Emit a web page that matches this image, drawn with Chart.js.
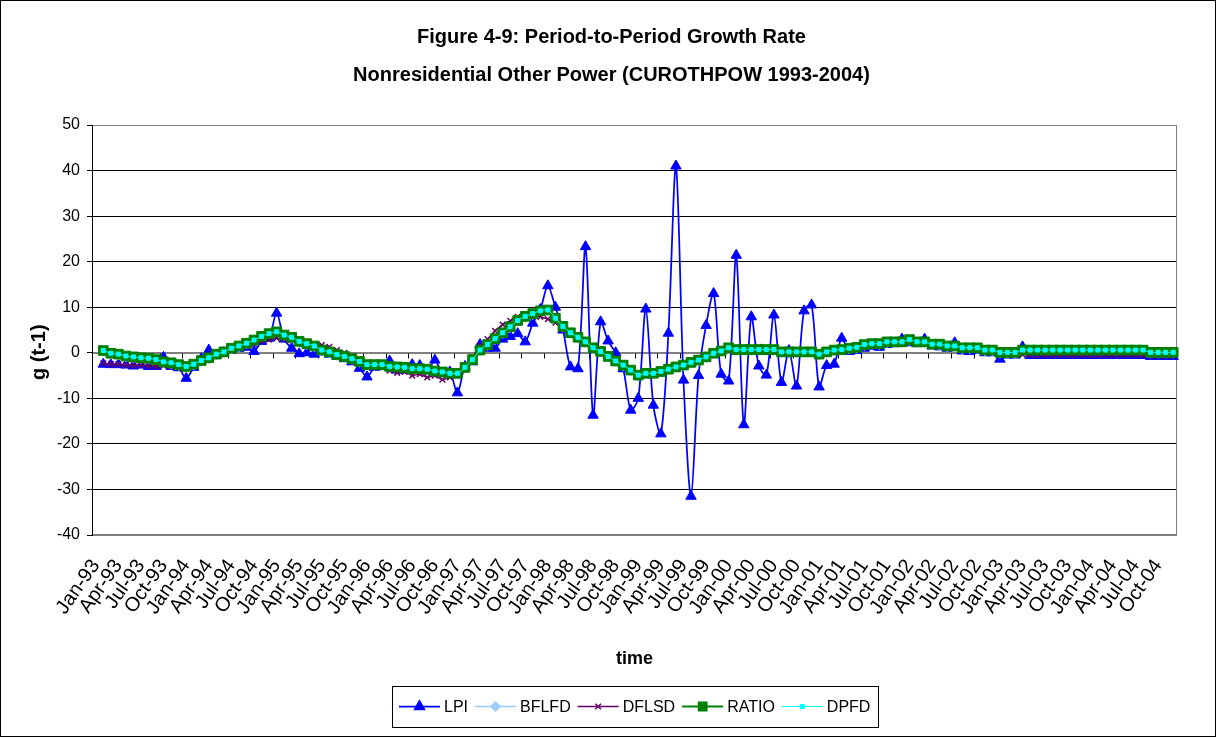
<!DOCTYPE html>
<html>
<head>
<meta charset="utf-8">
<title>Period-to-Period Growth Rate</title>
<script src="https://cdn.jsdelivr.net/npm/chart.js@4.4.1/dist/chart.umd.min.js"></script>
<style>
  html, body { margin: 0; padding: 0; background: #fff; }
  #wrap { width: 1217px; height: 738px; }
</style>
</head>
<body>
<div id="wrap"><canvas id="growth" width="1217" height="738"></canvas></div>
<script>
const FONT = "'Liberation Sans', Arial, sans-serif";

// monthly categories Jan-93 .. Dec-04, a label every quarter
const monthNames = ['Jan', 'Feb', 'Mar', 'Apr', 'May', 'Jun', 'Jul', 'Aug', 'Sep', 'Oct', 'Nov', 'Dec'];
const yearNames = ['93', '94', '95', '96', '97', '98', '99', '00', '01', '02', '03', '04'];
const labels = [];
yearNames.forEach(y => monthNames.forEach(m => labels.push(m + '-' + y)));

// growth rates g(t-1), one row per year (no value for the first month)
const lpi = [
  null, -2.5, -2.6, -2.6, -2.7, -2.9, -2.7, -3.0, -3.0, -1.0, -3.0, -3.3,
  -5.6, -3.2, -1.3, 0.6, -0.5, 0.0, 0.6, 1.0, 1.2, 0.3, 2.5, 3.2,
  8.7, 3.0, 1.0, -0.2, 0.0, -0.3, 0.2, -0.3, -0.8, -1.3, -2.0, -3.4,
  -5.3, -3.2, -3.0, -1.8, -3.8, -3.8, -2.6, -2.8, -4.0, -1.6, -4.5, -4.2,
  -8.8, -3.0, -2.0, 1.8, 1.0, 1.0, 3.0, 3.6, 4.2, 2.4, 6.5, 9.5,
  14.7, 10.0, 5.0, -3.1, -3.5, 23.3, -13.7, 6.8, 2.6, 0.0, -3.5, -12.6,
  -10.0, 9.6, -11.5, -17.8, 4.3, 41.0, -6.0, -31.5, -5.0, 6.0, 13.0, -4.7,
  -6.2, 21.4, -15.8, 7.9, -2.9, -4.9, 8.3, -6.5, 0.5, -7.3, 9.2, 10.5,
  -7.5, -2.8, -2.5, 3.2, 0.3, 0.5, 1.0, 1.4, 1.2, 1.8, 2.0, 3.0,
  2.2, 2.0, 3.0, 1.5, 1.3, 1.0, 2.2, 0.4, 0.3, 0.5, 0.0, 0.0,
  -1.4, -0.5, -0.5, 1.3, -0.6, -0.6, -0.6, -0.6, -0.6, -0.6, -0.6, -0.6,
  -0.6, -0.6, -0.6, -0.6, -0.6, -0.6, -0.6, -0.6, -0.8, -0.8, -0.8, -0.8
];

const bflfd = [
  null, 0.2, -0.4, -0.6, -1.0, -1.2, -1.4, -1.5, -1.8, -2.3, -2.5, -2.9,
  -3.3, -2.8, -2.0, -1.4, -0.6, -0.1, 0.7, 1.2, 1.8, 2.5, 3.3, 3.9,
  4.3, 3.6, 3.1, 2.2, 1.7, 1.2, 0.3, -0.1, -0.7, -1.1, -1.6, -2.2,
  -2.9, -2.9, -2.9, -3.3, -3.4, -3.5, -3.8, -3.8, -3.9, -4.3, -4.5, -4.8,
  -4.8, -3.5, -1.8, 0.3, 1.5, 2.8, 4.1, 5.4, 6.8, 7.7, 8.3, 8.9,
  9.1, 7.3, 5.5, 4.1, 3.1, 2.1, 0.8, 0.0, -1.1, -2.1, -3.0, -4.1,
  -5.2, -4.8, -4.8, -4.4, -3.9, -3.4, -3.0, -2.4, -1.9, -1.2, -0.4, 0.1,
  0.8, 0.4, 0.4, 0.4, 0.4, 0.4, 0.4, -0.1, -0.1, -0.1, -0.1, -0.1,
  -0.6, -0.1, 0.3, 0.4, 0.7, 0.9, 1.5, 1.7, 1.7, 2.1, 2.1, 2.1,
  2.6, 2.1, 2.1, 1.6, 1.6, 1.2, 1.2, 0.8, 0.8, 0.8, 0.3, 0.3,
  -0.2, -0.2, -0.2, 0.3, 0.3, 0.3, 0.3, 0.3, 0.3, 0.3, 0.3, 0.3,
  0.3, 0.3, 0.3, 0.3, 0.3, 0.3, 0.3, 0.3, -0.2, -0.2, -0.2, -0.2
];

const dflsd = [
  null, -2.3, -2.5, -2.5, -2.7, -2.8, -2.7, -2.9, -3.0, -2.8, -3.0, -3.2,
  -3.4, -2.9, -1.4, -1.0, -0.6, 0.0, 0.6, 1.0, 1.4, 1.9, 2.5, 2.9,
  3.2, 3.0, 2.8, 2.4, 2.1, 1.9, 1.7, 1.3, 0.6, 0.0, -0.8, -1.7,
  -2.6, -2.9, -3.2, -3.9, -4.4, -4.2, -5.0, -4.7, -5.4, -5.0, -5.9, -5.4,
  -5.0, -3.6, -1.0, 1.6, 3.0, 4.8, 6.2, 7.0, 7.9, 8.4, 8.3, 7.9,
  7.4, 6.6, 5.2, 4.0, 3.0, 2.0, 0.8, 0.0, -1.2, -2.2, -3.1, -4.2,
  -5.2, -5.0, -4.9, -4.6, -4.0, -3.6, -3.1, -2.5, -2.0, -1.2, -0.4, 0.3,
  1.0, 1.1, 1.2, 1.0, 1.3, 1.0, 0.8, 0.2, -0.1, 0.0, -0.1, 0.0,
  -0.4, 0.0, 0.4, 0.5, 0.8, 0.9, 1.4, 1.7, 1.8, 2.2, 2.3, 2.3,
  2.6, 2.3, 2.3, 1.8, 1.7, 1.3, 1.3, 0.8, 0.8, 0.8, 0.4, 0.4,
  -0.3, -0.4, -0.4, -0.4, -0.5, -0.5, -0.5, -0.5, -0.5, -0.5, -0.5, -0.5,
  -0.5, -0.5, -0.5, -0.5, -0.5, -0.5, -0.5, -0.5, -0.7, -0.7, -0.7, -0.7
];

const ratio = [
  null, 0.5, -0.1, -0.3, -0.7, -0.9, -1.1, -1.2, -1.5, -2.0, -2.2, -2.6,
  -3.0, -2.5, -1.7, -1.1, -0.3, 0.2, 1.0, 1.5, 2.1, 2.8, 3.6, 4.2,
  4.6, 3.9, 3.4, 2.5, 2.0, 1.5, 0.6, 0.2, -0.4, -0.8, -1.3, -1.9,
  -2.6, -2.6, -2.6, -3.0, -3.1, -3.2, -3.5, -3.5, -3.6, -4.0, -4.2, -4.5,
  -4.5, -3.2, -1.5, 0.6, 1.8, 3.1, 4.4, 5.7, 7.1, 8.0, 8.6, 9.2,
  9.4, 7.6, 5.8, 4.4, 3.4, 2.4, 1.1, 0.3, -0.8, -1.8, -2.7, -3.8,
  -4.9, -4.5, -4.5, -4.1, -3.6, -3.1, -2.7, -2.1, -1.6, -0.9, -0.1, 0.4,
  1.1, 0.7, 0.7, 0.7, 0.7, 0.7, 0.7, 0.2, 0.2, 0.2, 0.2, 0.2,
  -0.3, 0.2, 0.6, 0.7, 1.0, 1.2, 1.8, 2.0, 2.0, 2.4, 2.4, 2.4,
  2.9, 2.4, 2.4, 1.9, 1.9, 1.5, 1.5, 1.1, 1.1, 1.1, 0.6, 0.6,
  0.1, 0.1, 0.1, 0.6, 0.6, 0.6, 0.6, 0.6, 0.6, 0.6, 0.6, 0.6,
  0.6, 0.6, 0.6, 0.6, 0.6, 0.6, 0.6, 0.6, 0.1, 0.1, 0.1, 0.1
];

const dpfd = [
  null, 0.5, -0.1, -0.3, -0.7, -0.9, -1.1, -1.2, -1.5, -2.0, -2.2, -2.6,
  -3.0, -2.5, -1.7, -1.1, -0.3, 0.2, 1.0, 1.5, 2.1, 2.8, 3.6, 4.2,
  4.6, 3.9, 3.4, 2.5, 2.0, 1.5, 0.6, 0.2, -0.4, -0.8, -1.3, -1.9,
  -2.6, -2.6, -2.6, -3.0, -3.1, -3.2, -3.5, -3.5, -3.6, -4.0, -4.2, -4.5,
  -4.5, -3.2, -1.5, 0.6, 1.8, 3.1, 4.4, 5.7, 7.1, 8.0, 8.6, 9.2,
  9.4, 7.6, 5.8, 4.4, 3.4, 2.4, 1.1, 0.3, -0.8, -1.8, -2.7, -3.8,
  -4.9, -4.5, -4.5, -4.1, -3.6, -3.1, -2.7, -2.1, -1.6, -0.9, -0.1, 0.4,
  1.1, 0.7, 0.7, 0.7, 0.7, 0.7, 0.7, 0.2, 0.2, 0.2, 0.2, 0.2,
  -0.3, 0.2, 0.6, 0.7, 1.0, 1.2, 1.8, 2.0, 2.0, 2.4, 2.4, 2.4,
  2.9, 2.4, 2.4, 1.9, 1.9, 1.5, 1.5, 1.1, 1.1, 1.1, 0.6, 0.6,
  0.1, 0.1, 0.1, 0.6, 0.6, 0.6, 0.6, 0.6, 0.6, 0.6, 0.6, 0.6,
  0.6, 0.6, 0.6, 0.6, 0.6, 0.6, 0.6, 0.6, 0.1, 0.1, 0.1, 0.1
];

const yTicks = [-40, -30, -20, -10, 0, 10, 20, 30, 40, 50];

// outer frame, plot border, zero axis with quarterly tick marks, boxed legend
const excelFrame = {
  id: 'excelFrame',
  beforeDraw(chart) {
    const { ctx, width, height } = chart;
    ctx.save();
    ctx.fillStyle = '#fff';
    ctx.fillRect(0, 0, width, height);
    ctx.strokeStyle = '#000';
    ctx.lineWidth = 1;
    ctx.strokeRect(0.5, 0.5, width - 2, height - 2);
    ctx.restore();
  },
  beforeDatasetsDraw(chart) {
    const { ctx, chartArea: a, scales: { x, y } } = chart;
    ctx.save();
    ctx.strokeStyle = '#808080';
    ctx.lineWidth = 1;
    ctx.strokeRect(Math.round(a.left) + 0.5, Math.round(a.top) + 0.5,
      Math.round(a.width) - 1, Math.round(a.height) - 1);
    const y0 = Math.round(y.getPixelForValue(0)) + 0.5;
    ctx.beginPath();
    ctx.moveTo(a.left, y0);
    ctx.lineTo(a.right, y0);
    ctx.stroke();
    ctx.strokeStyle = '#000';
    ctx.beginPath();
    for (let k = 0; k <= labels.length; k += 3) {
      const px = Math.round(x.getPixelForValue(k - 0.5)) + 0.5;
      ctx.moveTo(px, y0);
      ctx.lineTo(px, y0 + 5);
    }
    ctx.stroke();
    // y axis line on top of the border
    ctx.beginPath();
    ctx.moveTo(Math.round(a.left) + 0.5, a.top);
    ctx.lineTo(Math.round(a.left) + 0.5, a.bottom);
    ctx.stroke();
    ctx.restore();
  },
  afterDraw(chart) {
    const { ctx } = chart;
    const sets = chart.data.datasets;
    const sample = 41, gapText = 4, gapItem = 7, padX = 7;
    const top = 686, bottom = 727, yc = (top + bottom) / 2;
    ctx.save();
    ctx.font = '16px ' + FONT;
    const widths = sets.map(ds => sample + gapText + ctx.measureText(ds.label).width);
    const inner = widths.reduce((s, w) => s + w, 0) + gapItem * (sets.length - 1);
    const left = Math.round(635 - inner / 2 - padX);
    const right = Math.round(635 + inner / 2 + padX);
    ctx.strokeStyle = '#000';
    ctx.lineWidth = 1;
    ctx.strokeRect(left + 0.5, top + 0.5, right - left, bottom - top);
    let cx = left + padX;
    sets.forEach((ds, i) => {
      ctx.strokeStyle = ds.borderColor;
      ctx.lineWidth = Math.min(ds.borderWidth, 2);
      ctx.beginPath();
      ctx.moveTo(cx, yc);
      ctx.lineTo(cx + sample, yc);
      ctx.stroke();
      ctx.fillStyle = ds.pointBackgroundColor;
      ctx.strokeStyle = ds.pointBorderColor;
      Chart.helpers.drawPoint(ctx, {
        pointStyle: ds.pointStyle,
        radius: Math.min(ds.pointRadius, 5.5),
        borderWidth: ds.pointBorderWidth,
        rotation: 0
      }, cx + sample / 2, yc);
      ctx.fillStyle = '#000';
      ctx.textBaseline = 'middle';
      ctx.textAlign = 'left';
      ctx.fillText(ds.label, cx + sample + gapText, yc + 1);
      cx += widths[i] + gapItem;
    });
    ctx.restore();
  }
};

const series = (label, data, color, style, radius, lineWidth, fill, order, extra) => Object.assign({
  label, data,
  borderColor: color,
  borderWidth: lineWidth,
  pointStyle: style,
  pointRadius: radius,
  pointHoverRadius: radius,
  pointBackgroundColor: fill,
  pointBorderColor: color,
  pointBorderWidth: 1,
  tension: 0.3,
  spanGaps: true,
  yAxisID: 'y',
  order
}, extra || {});

new Chart(document.getElementById('growth'), {
  type: 'line',
  data: {
    labels,
    datasets: [
      series('LPI', lpi, '#0000FF', 'triangle', 6, 1.75, '#0000FF', 5),
      series('BFLFD', bflfd, '#99CCFF', 'rectRot', 4.5, 1.5, '#99CCFF', 4),
      series('DFLSD', dflsd, '#660066', 'crossRot', 4, 1.5, '#660066', 3, { pointBorderWidth: 1.5 }),
      series('RATIO', ratio, '#008000', 'rect', 6.8, 2.25, '#008000', 2),
      series('DPFD', dpfd, '#00FFFF', 'rect', 2.8, 1, '#00FFFF', 1)
    ]
  },
  options: {
    responsive: false,
    animation: false,
    events: [],
    layout: { padding: { left: 6, right: 0, top: 0, bottom: 60 } },
    plugins: {
      legend: { display: false },
      tooltip: { enabled: false },
      title: {
        display: true,
        text: ['Figure 4-9: Period-to-Period Growth Rate', 'Nonresidential Other Power (CUROTHPOW 1993-2004)'],
        color: '#000',
        font: { family: FONT, size: 20, weight: 'bold', lineHeight: 38 / 20 },
        padding: { top: 18, bottom: 31 }
      }
    },
    scales: {
      x: {
        offset: true,
        grid: { display: false, drawTicks: false },
        border: { display: false },
        ticks: {
          autoSkip: false,
          minRotation: 55,
          maxRotation: 55,
          padding: 20,
          color: '#000',
          font: { family: FONT, size: 20 },
          callback: (v, i) => (i % 3 === 0 ? labels[i] : '')
        },
        title: {
          display: true,
          text: 'time',
          color: '#000',
          font: { family: FONT, size: 18, weight: 'bold' },
          padding: { top: 0, bottom: 8 }
        },
        afterFit: s => { s.height = 143; }
      },
      y: {
        min: yTicks[0],
        max: yTicks[yTicks.length - 1],
        afterBuildTicks: s => { s.ticks = yTicks.map(value => ({ value })); },
        grid: {
          color: c => (c.tick && [50, -40, 0].includes(c.tick.value) ? '#808080' : '#000'),
          tickColor: '#000',
          tickLength: 5,
          lineWidth: 1
        },
        border: { color: '#000' },
        ticks: {
          padding: 7,
          color: '#000',
          font: { family: FONT, size: 16 }
        },
        title: {
          display: true,
          // trailing spaces drop the label down beside the zero line
          text: 'g (t-1)        ',
          color: '#000',
          font: { family: FONT, size: 20, weight: 'bold' },
          padding: { top: 21, bottom: 0 }
        },
        afterFit: s => { s.width = 86; }
      },
      // empty right-hand margin so the titles centre on the whole chart
      margin: {
        position: 'right',
        grid: { display: false, drawTicks: false },
        border: { display: false },
        ticks: { display: false },
        afterFit: s => { s.width = 40; }
      }
    }
  },
  plugins: [excelFrame]
});
</script>
</body>
</html>
